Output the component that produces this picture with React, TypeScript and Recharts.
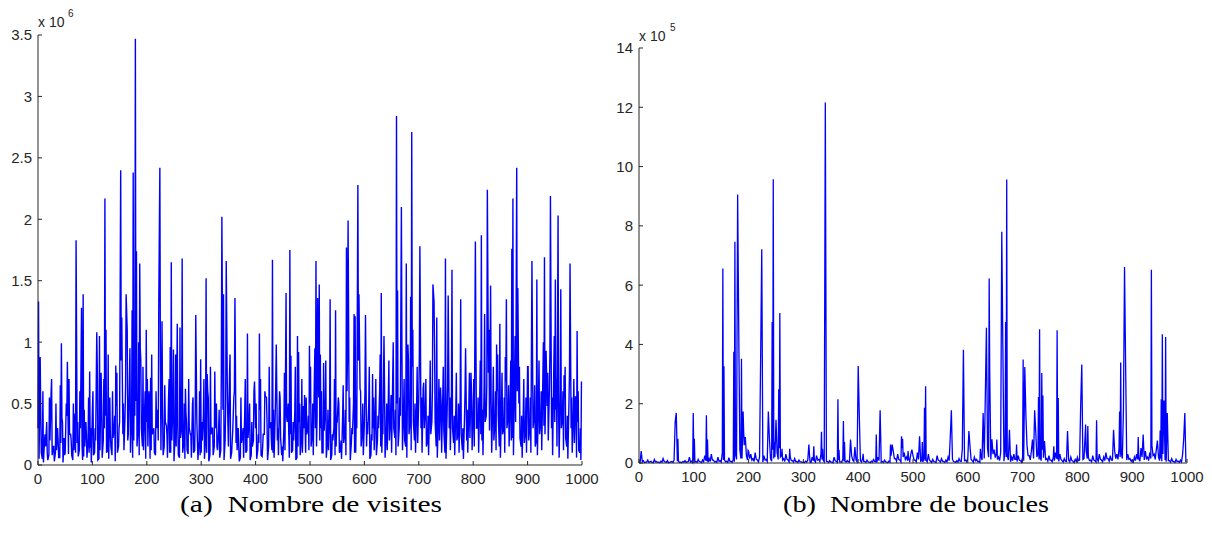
import React from 'react';
import { LineChart, Line, XAxis, YAxis } from 'recharts';

// x axis (iteration index), shared by both panels
const xTicks = [0, 100, 200, 300, 400, 500, 600, 700, 800, 900, 1000];

// (a) Nombre de visites, values in units of 10^6
const visitesTicks = [0, 0.5, 1, 1.5, 2, 2.5, 3, 3.5];
// background level at iterations 0, 4, 8, ... 996
const visitesBase = [
  0.3, 0.12, 0.05, 0.2, 0.35, 0.08, 0.58, 0.15, 0.1, 0.3, 0.06, 0.38, 0.22, 0.5, 0.09, 0.25, 0.04, 0.42, 0.18, 0.12, 0.6, 0.07, 0.35, 0.2, 0.14,
  0.45, 0.1, 0.3, 0.05, 0.75, 0.2, 0.4, 0.12, 0.55, 0.08, 0.3, 0.48, 0.15, 0.62, 0.25, 0.4, 0.1, 0.7, 0.35, 0.2, 0.52, 0.3, 0.95, 0.15, 0.45,
  0.35, 0.6, 0.12, 0.28, 0.08, 0.45, 0.2, 0.7, 0.15, 0.32, 0.55, 0.1, 0.48, 0.25, 0.62, 0.06, 0.3, 0.18, 0.42, 0.09, 0.25, 0.5, 0.12, 0.35, 0.2,
  0.1, 0.4, 0.22, 0.6, 0.08, 0.3, 0.15, 0.5, 0.28, 0.12, 0.45, 0.2, 0.65, 0.35, 0.1, 0.55, 0.18, 0.3, 0.06, 0.25, 0.42, 0.12, 0.35, 0.08, 0.2,
  0.3, 0.12, 0.45, 0.07, 0.25, 0.55, 0.15, 0.35, 0.1, 0.4, 0.2, 0.6, 0.08, 0.3, 0.18, 0.5, 0.25, 0.12, 0.42, 0.06, 0.35, 0.22, 0.48, 0.1, 0.3,
  0.5, 0.25, 0.7, 0.15, 0.55, 0.3, 0.1, 0.45, 0.2, 0.38, 0.08, 0.3, 0.15, 0.55, 0.12, 0.4, 0.25, 0.6, 0.35, 0.18, 0.5, 0.1, 0.45, 0.62, 0.28,
  0.35, 0.15, 0.5, 0.08, 0.3, 0.45, 0.2, 0.6, 0.1, 0.38, 0.25, 0.55, 0.4, 0.7, 0.22, 0.5, 0.3, 0.65, 0.45, 0.15, 0.58, 0.35, 0.8, 0.2, 0.48,
  0.55, 0.3, 0.62, 0.45, 0.2, 0.5, 0.35, 0.68, 0.15, 0.4, 0.28, 0.55, 0.1, 0.42, 0.3, 0.6, 0.18, 0.45, 0.25, 0.52, 0.12, 0.38, 0.2, 0.48, 0.3,
  0.45, 0.7, 0.3, 0.55, 0.2, 0.62, 0.4, 0.75, 0.25, 0.5, 0.35, 0.6, 0.15, 0.48, 0.3, 0.68, 0.4, 0.55, 0.22, 0.72, 0.35, 0.5, 0.15, 0.42, 0.28,
  0.5, 0.3, 0.65, 0.4, 0.2, 0.55, 0.35, 0.7, 0.25, 0.48, 0.6, 0.3, 0.75, 0.45, 0.2, 0.62, 0.38, 0.55, 0.15, 0.5, 0.3, 0.42, 0.2, 0.35, 0.1,
];
// values at iterations 1, 5, 9, ... 997
const visitesQuarter = [
  0.3, 0.45, 0.6, 0.25, 0.1, 0.55, 0.3, 0.15, 0.5, 0.2, 0.65, 0.35, 0.08, 0.4, 0.7, 0.2, 0.5, 0.1, 0.35, 0.6, 0.15, 0.45, 0.25, 0.55, 0.3,
  0.6, 0.3, 0.8, 0.2, 0.5, 0.7, 0.35, 0.9, 0.25, 0.6, 0.4, 0.75, 0.3, 0.85, 0.5, 0.65, 0.2, 0.95, 0.45, 0.7, 0.55, 1.0, 0.4, 0.8, 0.6,
  0.7, 0.4, 0.9, 0.3, 0.6, 0.2, 0.8, 0.45, 0.65, 0.25, 0.7, 0.35, 0.55, 0.9, 0.3, 0.6, 0.15, 0.5, 0.35, 0.7, 0.25, 0.55, 0.4, 0.2, 0.6,
  0.35, 0.7, 0.2, 0.55, 0.8, 0.3, 0.6, 0.15, 0.45, 0.75, 0.25, 0.5, 0.35, 0.9, 0.2, 0.6, 0.4, 0.15, 0.55, 0.3, 0.7, 0.2, 0.5, 0.35, 0.6,
  0.5, 0.25, 0.7, 0.15, 0.6, 0.35, 0.8, 0.2, 0.45, 0.65, 0.3, 0.55, 0.15, 0.75, 0.4, 0.25, 0.6, 0.35, 0.8, 0.2, 0.5, 0.7, 0.3, 0.55, 0.4,
  0.8, 0.5, 0.95, 0.4, 0.7, 0.6, 0.3, 0.85, 0.45, 0.6, 0.25, 0.7, 0.35, 0.5, 0.2, 0.65, 0.45, 0.9, 0.55, 0.3, 0.75, 0.4, 0.85, 0.6, 0.5,
  0.6, 0.35, 0.8, 0.25, 0.55, 0.7, 0.4, 0.9, 0.3, 0.65, 0.5, 0.85, 0.6, 1.0, 0.45, 0.75, 0.55, 0.95, 0.7, 0.4, 0.85, 0.6, 1.1, 0.5, 0.8,
  0.9, 0.55, 0.8, 0.7, 0.4, 0.85, 0.6, 0.95, 0.35, 0.7, 0.5, 0.8, 0.3, 0.65, 0.55, 0.9, 0.4, 0.75, 0.5, 0.85, 0.3, 0.6, 0.45, 0.75, 0.55,
  0.7, 1.0, 0.55, 0.85, 0.45, 0.95, 0.65, 1.1, 0.5, 0.8, 0.6, 0.9, 0.4, 0.75, 0.55, 1.0, 0.65, 0.85, 0.45, 1.05, 0.6, 0.8, 0.4, 0.7, 0.55,
  0.8, 0.55, 0.95, 0.65, 0.45, 0.85, 0.6, 1.0, 0.5, 0.75, 0.9, 0.55, 1.05, 0.7, 0.45, 0.9, 0.6, 0.8, 0.4, 0.75, 0.55, 0.7, 0.45, 0.6, 0.3,
];
// in-between values at iterations 2, 6, 10, ... 998
const visitesMid = [
  0.05, 0.1, 0.02, 0.15, 0.04, 0.2, 0.08, 0.03, 0.12, 0.06, 0.18, 0.02, 0.1, 0.05, 0.25, 0.08, 0.12, 0.03, 0.07, 0.3, 0.04, 0.15, 0.06, 0.1, 0.02,
  0.08, 0.2, 0.04, 0.12, 0.06, 0.3, 0.1, 0.05, 0.15, 0.22, 0.03, 0.1, 0.35, 0.08, 0.12, 0.05, 0.25, 0.1, 0.06, 0.4, 0.15, 0.08, 0.3, 0.12, 0.05,
  0.15, 0.05, 0.25, 0.1, 0.3, 0.04, 0.12, 0.08, 0.35, 0.06, 0.1, 0.2, 0.03, 0.15, 0.08, 0.22, 0.1, 0.05, 0.12, 0.3, 0.06, 0.1, 0.25, 0.04, 0.08,
  0.2, 0.05, 0.1, 0.03, 0.25, 0.08, 0.3, 0.12, 0.06, 0.2, 0.04, 0.1, 0.15, 0.05, 0.28, 0.08, 0.12, 0.03, 0.18, 0.06, 0.1, 0.22, 0.04, 0.15, 0.08,
  0.05, 0.18, 0.08, 0.25, 0.1, 0.04, 0.3, 0.12, 0.06, 0.15, 0.08, 0.22, 0.03, 0.12, 0.35, 0.06, 0.1, 0.2, 0.04, 0.15, 0.08, 0.1, 0.05, 0.25, 0.12,
  0.15, 0.08, 0.3, 0.05, 0.2, 0.1, 0.28, 0.06, 0.12, 0.04, 0.2, 0.08, 0.35, 0.1, 0.05, 0.18, 0.08, 0.12, 0.04, 0.25, 0.1, 0.3, 0.06, 0.15, 0.08,
  0.1, 0.25, 0.05, 0.2, 0.12, 0.08, 0.3, 0.15, 0.25, 0.06, 0.12, 0.2, 0.1, 0.3, 0.08, 0.15, 0.4, 0.12, 0.2, 0.06, 0.25, 0.12, 0.35, 0.1, 0.18,
  0.2, 0.1, 0.3, 0.15, 0.08, 0.25, 0.12, 0.35, 0.06, 0.2, 0.1, 0.28, 0.05, 0.18, 0.12, 0.3, 0.08, 0.2, 0.1, 0.25, 0.05, 0.15, 0.1, 0.22, 0.12,
  0.15, 0.3, 0.1, 0.25, 0.08, 0.35, 0.15, 0.28, 0.1, 0.2, 0.12, 0.4, 0.06, 0.25, 0.1, 0.3, 0.15, 0.2, 0.08, 0.35, 0.12, 0.22, 0.06, 0.18, 0.1,
  0.2, 0.1, 0.3, 0.15, 0.08, 0.25, 0.12, 0.32, 0.1, 0.2, 0.28, 0.08, 0.35, 0.15, 0.06, 0.3, 0.12, 0.22, 0.05, 0.25, 0.1, 0.18, 0.06, 0.12, 0.04,
];
// tall spikes (iteration, value)
const visitesPeakX = [
  1, 4, 25, 43, 54, 70, 71, 80, 83, 95,
  108, 113, 123, 125, 143, 152, 154, 162, 164, 173,
  175, 179, 181, 187, 189, 199, 207, 222, 224, 228,
  243, 245, 249, 256, 261, 265, 271, 290, 299, 309,
  311, 325, 338, 341, 346, 352, 362, 385, 398, 407,
  418, 431, 438, 456, 463, 465, 477, 479, 490, 499,
  511, 514, 517, 519, 525, 537, 547, 567, 570, 581,
  583, 588, 590, 602, 615, 631, 636, 649, 659, 661,
  668, 677, 680, 685, 687, 702, 709, 726, 728, 733,
  740, 749, 754, 761, 777, 786, 796, 804, 815, 821,
  826, 832, 843, 849, 859, 861, 871, 873, 880, 882,
  900, 908, 917, 931, 934, 942, 951, 956, 961, 967,
  978, 988, 991, 999,
];
const visitesPeakY = [
  1.33, 0.88, 0.7, 0.99, 0.84, 1.83, 0.98, 1.28, 1.39, 0.76,
  1.08, 1.05, 2.17, 1.1, 0.81, 2.4, 1.2, 1.39, 1.1, 1.26,
  2.38, 3.47, 1.74, 1.64, 0.85, 1.1, 0.71, 1.29, 2.42, 1.17,
  0.96, 1.65, 0.94, 1.15, 1.12, 1.68, 0.62, 1.22, 0.86, 1.52,
  0.74, 0.76, 2.02, 1.39, 1.66, 0.73, 1.36, 1.07, 0.68, 1.07,
  0.56, 1.67, 0.98, 1.4, 1.75, 0.89, 1.05, 0.92, 0.57, 0.97,
  1.66, 1.36, 1.47, 0.9, 0.83, 1.35, 1.26, 1.77, 1.99, 1.23,
  1.21, 2.28, 1.39, 1.22, 0.74, 1.4, 1.05, 0.57, 2.84, 1.42,
  2.1, 1.64, 0.98, 1.37, 2.71, 1.78, 0.67, 1.47, 1.33, 1.2,
  0.63, 1.68, 1.38, 1.59, 1.35, 0.95, 0.75, 1.82, 1.87, 1.23,
  2.24, 1.46, 0.98, 1.15, 0.88, 1.35, 1.76, 2.17, 2.42, 1.44,
  0.8, 1.66, 1.51, 1.69, 0.93, 2.19, 1.51, 2.03, 1.43, 0.73,
  1.64, 0.56, 1.09, 0.68,
];

// (b) Nombre de boucles, values in units of 10^5
const bouclesTicks = [0, 2, 4, 6, 8, 10, 12, 14];
const bouclesBase = [
  0.05, 0.4, 0.08, 0.03, 0.1, 0.04, 0.02, 0.12, 0.05, 0.03, 0.06, 0.15, 0.04, 0.08, 0.02, 0.05, 0.1, 0.18, 0.06, 0.03, 0.05, 0.08, 0.04, 0.2, 0.06,
  0.08, 0.05, 0.12, 0.04, 0.1, 0.25, 0.06, 0.15, 0.3, 0.1, 0.05, 0.2, 0.08, 0.35, 0.1, 0.06, 0.18, 0.05, 0.12, 0.3, 0.2, 0.45, 0.15, 0.6, 0.25,
  0.4, 0.3, 0.15, 0.35, 0.1, 0.2, 0.08, 0.25, 0.12, 0.3, 0.15, 0.45, 0.2, 0.35, 0.5, 0.25, 0.15, 0.3, 0.1, 0.2, 0.08, 0.15, 0.05, 0.1, 0.04,
  0.03, 0.06, 0.1, 0.04, 0.2, 0.08, 0.25, 0.12, 0.3, 0.1, 0.15, 0.05, 0.08, 0.03, 0.2, 0.05, 0.1, 0.04, 0.15, 0.06, 0.08, 0.03, 0.25, 0.05, 0.1,
  0.2, 0.08, 0.15, 0.05, 0.1, 0.03, 0.06, 0.12, 0.04, 0.2, 0.08, 0.05, 0.1, 0.03, 0.06, 0.25, 0.4, 0.15, 0.3, 0.1, 0.5, 0.35, 0.2, 0.15, 0.3,
  0.25, 0.1, 0.35, 0.15, 0.08, 0.2, 0.1, 0.3, 0.06, 0.12, 0.04, 0.25, 0.08, 0.15, 0.05, 0.1, 0.2, 0.06, 0.12, 0.04, 0.08, 0.15, 0.05, 0.2, 0.1,
  0.15, 0.3, 0.08, 0.2, 0.12, 0.05, 0.25, 0.4, 0.6, 0.5, 0.35, 0.8, 0.45, 0.3, 0.2, 0.35, 0.15, 0.5, 0.25, 0.1, 0.2, 0.3, 0.12, 0.25, 0.08,
  0.2, 0.35, 0.6, 0.25, 0.4, 0.15, 0.5, 0.3, 0.2, 0.45, 0.3, 0.15, 0.25, 0.1, 0.2, 0.35, 0.12, 0.3, 0.08, 0.15, 0.05, 0.1, 0.2, 0.06, 0.12,
  0.2, 0.1, 0.3, 0.15, 0.4, 0.2, 0.1, 0.25, 0.08, 0.15, 0.3, 0.1, 0.2, 0.35, 0.15, 0.25, 0.1, 0.4, 0.3, 0.5, 0.35, 0.6, 0.25, 0.3, 0.15,
  0.1, 0.2, 0.3, 0.15, 0.5, 0.25, 0.4, 0.2, 0.35, 0.6, 0.3, 0.45, 0.2, 0.15, 0.3, 0.1, 0.2, 0.08, 0.15, 0.05, 0.12, 0.06, 0.1, 0.3, 0.08,
];
const bouclesMid = [
  0.02, 0.05, 0.01, 0.03, 0.02, 0.06, 0.01, 0.04, 0.02, 0.01, 0.03, 0.05, 0.02, 0.01, 0.04, 0.02, 0.03, 0.06, 0.02, 0.01, 0.03, 0.02, 0.05, 0.03, 0.01,
  0.03, 0.02, 0.05, 0.01, 0.04, 0.08, 0.02, 0.05, 0.1, 0.03, 0.02, 0.06, 0.03, 0.1, 0.04, 0.02, 0.05, 0.02, 0.04, 0.12, 0.06, 0.15, 0.05, 0.2, 0.1,
  0.15, 0.1, 0.05, 0.12, 0.04, 0.08, 0.03, 0.1, 0.05, 0.12, 0.06, 0.15, 0.08, 0.12, 0.2, 0.1, 0.05, 0.12, 0.04, 0.08, 0.03, 0.05, 0.02, 0.04, 0.02,
  0.01, 0.03, 0.04, 0.02, 0.08, 0.03, 0.1, 0.05, 0.12, 0.04, 0.06, 0.02, 0.03, 0.01, 0.08, 0.02, 0.04, 0.02, 0.06, 0.03, 0.04, 0.01, 0.1, 0.02, 0.04,
  0.08, 0.03, 0.06, 0.02, 0.04, 0.01, 0.03, 0.05, 0.02, 0.08, 0.03, 0.02, 0.04, 0.01, 0.03, 0.1, 0.15, 0.06, 0.12, 0.04, 0.2, 0.12, 0.08, 0.06, 0.1,
  0.1, 0.04, 0.12, 0.06, 0.03, 0.08, 0.04, 0.1, 0.02, 0.05, 0.02, 0.1, 0.03, 0.06, 0.02, 0.04, 0.08, 0.02, 0.05, 0.02, 0.03, 0.06, 0.02, 0.08, 0.04,
  0.06, 0.12, 0.03, 0.08, 0.05, 0.02, 0.1, 0.15, 0.25, 0.2, 0.12, 0.3, 0.18, 0.12, 0.08, 0.15, 0.06, 0.2, 0.1, 0.04, 0.08, 0.12, 0.05, 0.1, 0.03,
  0.08, 0.15, 0.25, 0.1, 0.15, 0.06, 0.2, 0.12, 0.08, 0.18, 0.12, 0.06, 0.1, 0.04, 0.08, 0.15, 0.05, 0.12, 0.03, 0.06, 0.02, 0.04, 0.08, 0.02, 0.05,
  0.08, 0.04, 0.12, 0.06, 0.15, 0.08, 0.04, 0.1, 0.03, 0.06, 0.12, 0.04, 0.08, 0.15, 0.06, 0.1, 0.04, 0.15, 0.12, 0.2, 0.15, 0.25, 0.1, 0.12, 0.06,
  0.04, 0.08, 0.12, 0.06, 0.2, 0.1, 0.15, 0.08, 0.15, 0.25, 0.12, 0.18, 0.08, 0.06, 0.12, 0.04, 0.08, 0.03, 0.06, 0.02, 0.05, 0.02, 0.04, 0.12, 0.03,
];
const bouclesPeakX = [
  4, 66, 68, 71, 99, 101, 123, 125, 153, 155,
  173, 175, 180, 182, 187, 190, 191, 194, 199, 222,
  224, 236, 238, 243, 245, 247, 250, 255, 257, 261,
  275, 310, 319, 333, 335, 340, 363, 365, 373, 375,
  386, 394, 400, 402, 409, 433, 440, 459, 462, 479,
  481, 491, 498, 512, 517, 521, 523, 568, 570, 590,
  592, 602, 604, 623, 628, 632, 634, 639, 640, 653,
  662, 664, 669, 671, 676, 689, 701, 704, 706, 718,
  722, 724, 729, 731, 735, 737, 740, 757, 763, 765,
  782, 806, 808, 814, 815, 819, 835, 866, 877, 879,
  884, 886, 888, 911, 920, 935, 946, 951, 953, 955,
  958, 961, 964, 994, 996,
];
const bouclesPeakY = [
  0.4, 1.38, 1.69, 0.82, 1.69, 0.82, 1.61, 0.79, 6.56, 3.26,
  3.75, 7.46, 9.06, 4.51, 3.52, 1.74, 1.05, 0.88, 0.43, 3.61,
  7.21, 1.74, 0.82, 4.76, 9.57, 0.71, 1.46, 2.49, 5.06, 0.48,
  0.48, 0.62, 0.56, 1.05, 0.48, 12.16, 2.15, 0.45, 1.42, 0.71,
  0.79, 0.54, 3.27, 1.61, 0.31, 0.96, 1.78, 0.62, 0.62, 0.9,
  0.82, 0.4, 0.45, 0.9, 0.71, 1.86, 2.59, 0.88, 1.78, 0.48,
  3.82, 1.08, 0.56, 0.48, 1.69, 2.28, 4.56, 6.22, 3.09, 0.79,
  7.8, 3.86, 4.76, 9.56, 1.12, 0.62, 3.49, 3.24, 1.61, 0.79,
  1.78, 1.05, 2.23, 4.51, 3.04, 2.28, 0.74, 0.56, 4.48, 2.19,
  1.08, 1.95, 3.32, 0.88, 1.3, 1.25, 1.44, 1.12, 1.74, 3.39,
  1.78, 6.61, 3.27, 0.88, 0.96, 6.52, 0.76, 1.1, 2.15, 4.34,
  2.11, 4.25, 1.69, 0.82, 1.69,
];

const STEP = 4;

// merge the regular samples and the spikes into one sorted series
const buildSeries = (layers: [number, number[]][], peakX: number[], peakY: number[]) => {
  const m = new Map<number, number>();
  layers.forEach(([offset, vals]) => vals.forEach((v, i) => m.set(i * STEP + offset, v)));
  peakX.forEach((x, i) => m.set(x, peakY[i]));
  return [...m.entries()].sort((a, b) => a[0] - b[0]).map(([x, y]) => ({ x, y }));
};

const visitesData = buildSeries(
  [[0, visitesBase], [1, visitesQuarter], [2, visitesMid]],
  visitesPeakX,
  visitesPeakY,
);
const bouclesData = buildSeries([[0, bouclesBase], [2, bouclesMid]], bouclesPeakX, bouclesPeakY);

const INK = '#262626';
const TICK_FONT = '"Liberation Sans", Arial, sans-serif';
const X_MARGIN = 8;
const Y_MARGIN = 6;

// matlab style: ticks point inside the axes
const XTick = (props: any) => {
  const { x, y, payload } = props;
  const axisY = y - X_MARGIN;
  return (
    <g>
      <line x1={x} x2={x} y1={axisY} y2={axisY - 4} stroke={INK} />
      <text x={x} y={y} dy="0.72em" textAnchor="middle" fill={INK} fontSize={15} fontFamily={TICK_FONT}>
        {payload.value}
      </text>
    </g>
  );
};

const YTick = (props: any) => {
  const { x, y, payload } = props;
  const axisX = x + Y_MARGIN;
  return (
    <g>
      <line x1={axisX} x2={axisX + 4} y1={y} y2={y} stroke={INK} />
      <text x={x} y={y} dy="0.36em" textAnchor="end" fill={INK} fontSize={15} fontFamily={TICK_FONT}>
        {payload.value}
      </text>
    </g>
  );
};

interface PanelProps {
  data: { x: number; y: number }[];
  yTicks: number[];
  width: number;
  margin: { top: number; right: number; bottom: number; left: number };
  yWidth: number;
  lineWidth: number;
}

const Panel: React.FC<PanelProps> = ({ data, yTicks, width, margin, yWidth, lineWidth }) => (
  <LineChart width={width} height={534} data={data} margin={margin}>
    <XAxis
      type="number"
      dataKey="x"
      domain={[0, 1000]}
      ticks={xTicks}
      interval={0}
      height={30}
      tickSize={0}
      tickMargin={X_MARGIN}
      tickLine={false}
      axisLine={{ stroke: INK }}
      tick={<XTick />}
    />
    <YAxis
      type="number"
      domain={[yTicks[0], yTicks[yTicks.length - 1]]}
      ticks={yTicks}
      interval={0}
      width={yWidth}
      tickSize={0}
      tickMargin={Y_MARGIN}
      tickLine={false}
      axisLine={{ stroke: INK }}
      tick={<YTick />}
    />
    <Line
      type="linear"
      dataKey="y"
      stroke="#0000ff"
      strokeWidth={lineWidth}
      strokeLinejoin="miter"
      dot={false}
      activeDot={false}
      isAnimationActive={false}
    />
  </LineChart>
);

const CAPTION_FONT = '"Liberation Serif", "DejaVu Serif", serif';

const App: React.FC = () => (
  <div style={{ position: 'absolute', left: 0, top: 0, width: 1212, height: 534, background: '#fff' }}>
    <div style={{ position: 'absolute', left: 0, top: 0 }}>
      <Panel data={visitesData} yTicks={visitesTicks} width={600} yWidth={38} lineWidth={1.4} margin={{ top: 35, right: 18, bottom: 39, left: 0 }} />
    </div>
    <div style={{ position: 'absolute', left: 600, top: 0 }}>
      <Panel data={bouclesData} yTicks={bouclesTicks} width={612} yWidth={39} lineWidth={1.3} margin={{ top: 48, right: 25, bottom: 41, left: 0 }} />
    </div>
    <svg width={1212} height={534} style={{ position: 'absolute', left: 0, top: 0, pointerEvents: 'none' }}>
      <g fill={INK} fontFamily={TICK_FONT}>
        <text x={38} y={27} fontSize={14}>x 10</text>
        <text x={68} y={17} fontSize={10}>6</text>
        <text x={639} y={41} fontSize={14}>x 10</text>
        <text x={670} y={31} fontSize={10}>5</text>
      </g>
      <g fill="#000" fontFamily={CAPTION_FONT} fontSize={24} textAnchor="middle">
        <text x={311} y={512} textLength={262} lengthAdjust="spacingAndGlyphs" xmlSpace="preserve">(a)  Nombre de visites</text>
        <text x={916} y={512} textLength={266} lengthAdjust="spacingAndGlyphs" xmlSpace="preserve">(b)  Nombre de boucles</text>
      </g>
    </svg>
  </div>
);

export default App;
